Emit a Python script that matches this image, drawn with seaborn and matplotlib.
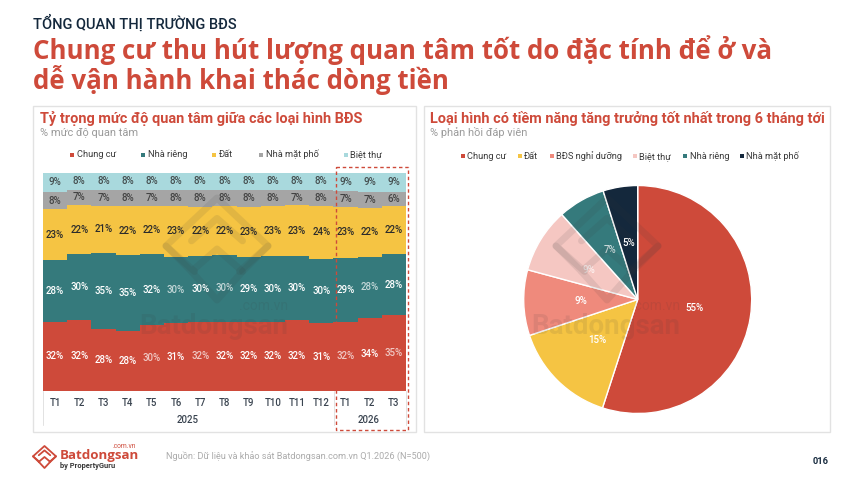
import matplotlib
matplotlib.use("Agg")
import matplotlib.pyplot as plt
from matplotlib.patches import Rectangle
import pandas as pd
import seaborn as sns

W, H = 864, 497
sns.set_theme(style="white")
plt.rcParams['font.family'] = ['Roboto', 'DejaVu Sans']

RED, TEAL, YEL, GREY, CYAN = '#CE4A3A', '#357A7C', '#F5C443', '#A5A5A5', '#A9D9DD'
PINK, LPINK, NAVY, DARK = '#EF8A7C', '#F5C7C2', '#14283C', '#14283C'

months = ['T1','T2','T3','T4','T5','T6','T7','T8','T9','T10','T11','T12','T1','T2','T3']
chung_cu = [31.7,32.3,28.2,27.6,30.2,31.3,31.8,31.8,31.8,31.8,32.3,30.9,31.8,33.6,34.6]
nha_rieng = [28.3,30.3,35.1,34.7,32.4,30.2,30.1,30.4,29.4,29.9,29.6,29.6,29.2,27.9,28.0]
dat = [23.2,22.4,21.3,22.2,22.0,23.1,22.4,22.4,23.1,22.9,23.0,24.1,23.2,22.4,22.0]
nha_mat_pho = [7.9,7.2,7.4,7.6,7.4,7.6,7.7,7.6,7.7,7.6,7.3,7.6,7.2,7.1,6.4]
biet_thu = [8.9,7.8,8.0,7.9,8.0,7.8,8.0,7.8,8.0,7.8,7.8,7.8,8.6,9.0,9.0]
stack_names = ['Chung cư','Nhà riêng','Đất','Nhà mặt phố','Biệt thự']
years = ['2025','2026']
pie_names = ['Chung cư','Đất','BĐS nghỉ dưỡng','Biệt thự','Nhà riêng','Nhà mặt phố']
pie_values = [55,14.9,9.3,9.2,6.7,4.9]

fig = plt.figure(figsize=(W/100, H/100), dpi=100, facecolor='white')

def px_axes(x0, y0, x1, y1, **kw):
    return fig.add_axes([x0/W, 1-y1/H, (x1-x0)/W, (y1-y0)/H], **kw)

# page layer, pixel coordinates
bg = px_axes(0, 0, W, H, zorder=0)
bg.set_xlim(0, W); bg.set_ylim(H, 0); bg.axis('off')
for x0, x1 in [(33, 415.5), (424, 829.5)]:
    bg.add_patch(Rectangle((x0, 106), x1-x0, 326, fc='white', ec='#E2E2E2', lw=1))

# stacked chart
ax = px_axes(43, 172.5, 406, 391, zorder=1)
series = [chung_cu, nha_rieng, dat, nha_mat_pho, biet_thu]
colors = [RED, TEAL, YEL, GREY, CYAN]
df = pd.DataFrame([{'x': i, 'type': n, 'v': v} for n, s in zip(stack_names, series) for i, v in enumerate(s)])
sns.histplot(df, x='x', weights='v', hue='type', hue_order=stack_names[::-1],
             palette=dict(zip(stack_names, colors)), multiple='stack', discrete=True,
             shrink=1, linewidth=0, alpha=1, legend=False, ax=ax)
ax.set_xlim(-0.5, 14.5); ax.set_ylim(0, 100); ax.axis('off')

# pie
pax = px_axes(637.7-114, 299.5-114, 637.7+114, 299.5+114, zorder=1)
wedges, _, autos = pax.pie(pie_values, colors=[RED, YEL, PINK, LPINK, TEAL, NAVY], startangle=90,
                           counterclock=False, radius=1, autopct='%.0f%%', pctdistance=0.5,
                           wedgeprops=dict(edgecolor='white', linewidth=1),
                           textprops=dict(color='white', fontsize=7, fontweight='medium', zorder=6))
pax.set_xlim(-1, 1); pax.set_ylim(-1, 1)
autos[3].set_alpha(0.75); autos[4].set_alpha(0.75)

# overlay layer
ov = px_axes(0, 0, W, H, zorder=2)
ov.set_xlim(0, W); ov.set_ylim(H, 0); ov.axis('off'); ov.patch.set_alpha(0)

def logo(x0, y0, w, h, color, lw, alpha=1.0):
    paths = [[(0.28,0.72),(0,0.47),(0.5,0),(1,0.47),(0.72,0.72)],
             [(0,0.47),(0.25,0.72),(0.5,0.5),(0.75,0.72),(0.5,1),(0.25,0.72)],
             [(0.25,0.42),(0.5,0.2),(0.75,0.42)],
             [(0.75,0.72),(1,0.47)]]
    for p in paths:
        ov.plot([x0+a*w for a, _ in p], [y0+b*h for _, b in p], color=color, lw=lw, alpha=alpha,
                solid_joinstyle='round', solid_capstyle='round')

for lx, tx1 in [(166, 288), (556, 680)]:
    logo(lx, 198, 102, 102, '#3A3A3A', 5, 0.10)
    ov.text(tx1, 326, 'Batdongsan', ha='right', va='center', fontsize=20, fontweight='bold', color='#3A3A3A', alpha=0.10)
    ov.text(tx1, 306, '.com.vn', ha='right', va='center', fontsize=10, color='#3A3A3A', alpha=0.10)

# stacked labels drawn above the watermark
lab = px_axes(43, 172.5, 406, 391, zorder=3)
lab.set_xlim(-0.5, 14.5); lab.set_ylim(0, 100); lab.axis('off'); lab.patch.set_alpha(0)
base = [0]*15
faded = {(0,4),(0,6),(0,12),(0,14),(1,5),(1,7),(1,13)}
for si, s in enumerate(series):
    for i, v in enumerate(s):
        c = 'white' if si < 2 else '#2B2B2B'
        a = 0.7 if (si, i) in faded else (0.8 if si >= 3 else 1)
        lab.text(i, base[i]+v/2, f'{v:.0f}%', ha='center', va='center', fontsize=7, color=c, alpha=a,
                 fontweight='medium')
        base[i] += v

ov.text(33, 23, 'TỔNG QUAN THỊ TRƯỜNG BĐS', fontsize=10.5, fontweight='medium', color=DARK, va='center')
ov.text(33, 50, 'Chung cư thu hút lượng quan tâm tốt do đặc tính để ở và', fontsize=18.6, fontweight='bold', color=RED, va='center', family=['Open Sans', 'DejaVu Sans'])
ov.text(33, 80, 'dễ vận hành khai thác dòng tiền', fontsize=18.6, fontweight='bold', color=RED, va='center', family=['Open Sans', 'DejaVu Sans'])
ov.text(39.5, 118, 'Tỷ trọng mức độ quan tâm giữa các loại hình BĐS', fontsize=10.45, fontweight='bold', color=RED, va='center')
ov.text(430, 118, 'Loại hình có tiềm năng tăng trưởng tốt nhất trong 6 tháng tới', fontsize=10.45, fontweight='bold', color=RED, va='center')
ov.text(40, 133, '% mức độ quan tâm', fontsize=7.9, color='#9A9A9A', va='center')
ov.text(430, 133, '% phản hồi đáp viên', fontsize=7.9, color='#9A9A9A', va='center')

def legend(items, y):
    for name, c, sx, tx in items:
        ov.add_patch(Rectangle((sx, y-2), 4, 4, fc=c, ec='none'))
        ov.text(tx, y, name, fontsize=6.7, color='#3A3A3A', va='center')

legend(list(zip(stack_names, colors, [70,141,212,259,344], [76.6,147.6,219,266,350])), 154.5)
legend(list(zip(pie_names, [RED,YEL,PINK,LPINK,TEAL,NAVY], [460.5,517.5,550,632.5,683,739.5], [467,524,556,639,689.5,746])), 156.3)

# month and year axis
bw = (406-43)/15
for i, m in enumerate(months):
    ov.text(43+bw*(i+0.5), 402.7, m, ha='center', va='center', fontsize=6.9, color='#3A4450', fontweight='medium')
ov.text(188, 420, years[0], ha='center', va='center', fontsize=6.9, color='#3A4450', fontweight='medium')
ov.text(369, 420, years[1], ha='center', va='center', fontsize=6.9, color='#3A4450', fontweight='medium')
for x in [43, 333.5, 406]:
    ov.plot([x, x], [391, 425], color='#E2E2E2', lw=0.7)

ov.add_patch(Rectangle((336, 167), 72, 263, fc='none', ec=RED, lw=1, ls=(0, (2.5, 2)), zorder=5))

# footer
logo(33, 446, 23, 22, RED, 1.3)
ov.text(60, 455, 'Batdongsan', fontsize=9.6, fontweight='bold', color=RED, va='center', family=['Open Sans','DejaVu Sans'])
ov.text(136.5, 447, '.com.vn', fontsize=4.8, color=RED, va='center', ha='right')
ov.text(60, 466, 'by PropertyGuru', fontsize=5.4, fontweight='bold', color='#3A3A3A', va='center')
ov.text(166, 457, 'Nguồn: Dữ liệu và khảo sát Batdongsan.com.vn Q1.2026 (N=500)', fontsize=6.6, color='#ABABAB', va='center')
ov.text(829, 461.5, '016', fontsize=6.7, fontweight='bold', color=DARK, va='center', ha='right')

fig.savefig('out.png', dpi=100)
